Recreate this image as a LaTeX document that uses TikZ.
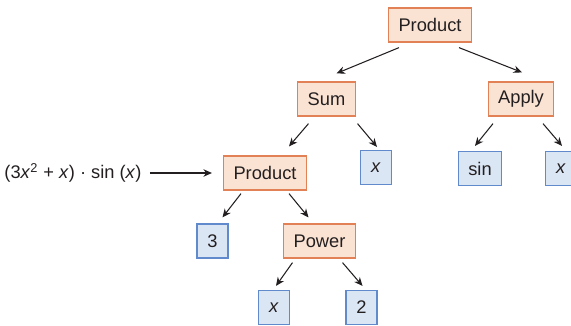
\documentclass[tikz,border=0pt]{standalone}
\usepackage{fontspec}
\setmainfont{Liberation Sans}
\usetikzlibrary{calc,arrows.meta}
\definecolor{opfill}{RGB}{251,227,212}
\definecolor{opline}{RGB}{226,128,86}
\definecolor{lffill}{RGB}{219,230,245}
\definecolor{lfline}{RGB}{96,138,204}
\definecolor{ink}{RGB}{35,31,32}

\begin{document}
\begin{tikzpicture}[x=0.02cm,y=-0.02cm,
  font=\fontsize{10.4}{12}\selectfont,text=ink,
  op/.style={draw=opline,fill=opfill,line width=0.7pt,minimum height=0.68cm,inner xsep=0.2cm},
  lf/.style={draw=lfline,fill=lffill,line width=0.7pt,minimum height=0.68cm,minimum width=0.62cm,inner xsep=0.2cm},
  edge/.style={draw=ink,line width=0.6pt,-{Stealth[length=1.7mm,width=1.5mm]}}]
  \clip (0,0) rectangle (571,325);
  \node[op] (top)   at (430,25)    {Product};
  \node[op] (sum)   at (326.5,99)  {Sum};
  \node[op] (apply) at (521,99)    {Apply};
  \node[lf] (xa)    at (376,167.5) {\textit{x}};
  \node[lf] (sin)   at (480,168.5) {sin};
  \node[lf] (xb)    at (561,168.5) {\textit{x}};
  \node[op] (prod)  at (265,173)   {Product};
  \node[lf] (three) at (212.5,241) {3};
  \node[op] (power) at (319.5,241) {Power};
  \node[lf] (xc)    at (274,307.5) {\textit{x}};
  \node[lf] (two)   at (361.5,307.5) {2};
  \node[inner sep=0pt] (expr) at (73,173) {(3\textit{x}\textsuperscript{2} + \textit{x}) · sin (\textit{x})};

  \draw[edge] ($(top.south)+(-31,5)$) -- ($(sum.north)+(10,-8)$);
  \draw[edge] ($(top.south)+(29,5)$) -- ($(apply.north)+(1,-9)$);
  \draw[edge] ($(sum.south)+(-18,7)$) -- ($(prod.north)+(24,-9)$);
  \draw[edge] ($(sum.south)+(31,7)$) -- ($(xa.north)+(1,-3)$);
  \draw[edge] ($(apply.south)+(-28,7)$) -- ($(sin.north)+(-5,-5)$);
  \draw[edge] ($(apply.south)+(22,7)$) -- ($(xb.north)+(1,-5)$);
  \draw[edge] ($(prod.south)+(-24,3)$) -- ($(three.north)+(10,-6)$);
  \draw[edge] ($(prod.south)+(24,3)$) -- ($(power.north)+(-11,-6)$);
  \draw[edge] ($(power.south)+(-27,4)$) -- ($(xc.north)+(2,-4)$);
  \draw[edge] ($(power.south)+(23,4)$) -- ($(two.north)+(1,-4)$);
  \draw[edge] ($(expr.east)+(8,0)$) -- ($(prod.west)+(-11,0)$);
\end{tikzpicture}
\end{document}
